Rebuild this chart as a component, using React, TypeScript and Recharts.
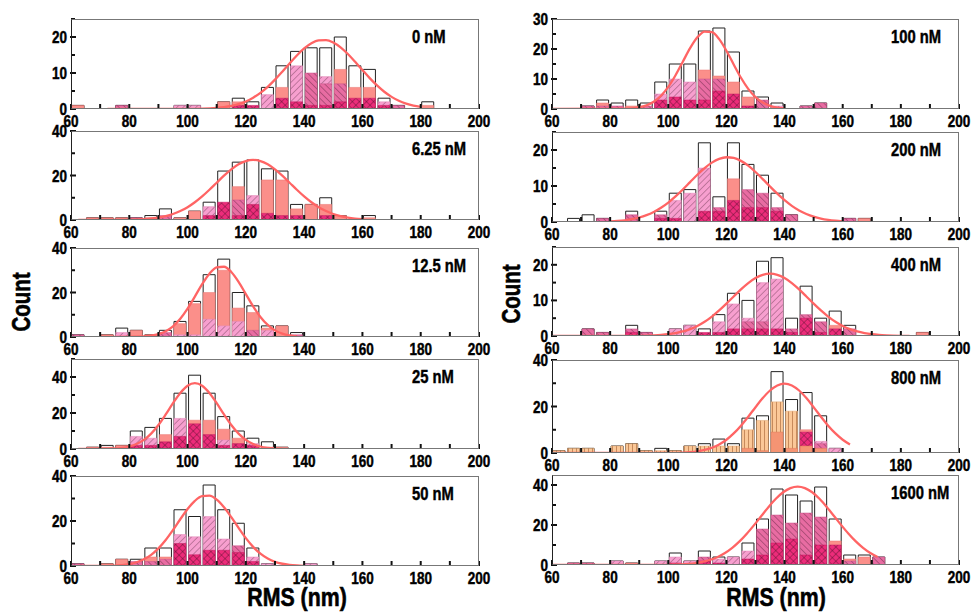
import React from 'react';
import { ComposedChart, Bar, Line, XAxis, YAxis } from 'recharts';

// ---------- categories / ticks ----------
const binCenters = [62.5, 67.5, 72.5, 77.5, 82.5, 87.5, 92.5, 97.5, 102.5, 107.5, 112.5, 117.5, 122.5, 127.5, 132.5, 137.5, 142.5, 147.5, 152.5, 157.5, 162.5, 167.5, 172.5, 177.5, 182.5, 187.5, 192.5, 197.5];
const xTicks = [60, 70, 80, 90, 100, 110, 120, 130, 140, 150, 160, 170, 180, 190, 200];
const panelLabels = ['0 nM', '6.25 nM', '12.5 nM', '25 nM', '50 nM', '100 nM', '200 nM', '400 nM', '800 nM', '1600 nM'];
const yMaxes = [25, 40, 40, 50, 40, 30, 25, 25, 40, 45];
const yTicks25 = [0, 5, 10, 15, 20, 25];
const yTicks30 = [0, 5, 10, 15, 20, 25, 30];
const yTicks40 = [0, 10, 20, 30, 40];
const yTicks50 = [0, 10, 20, 30, 40, 50];

// ---------- 0 nM ----------
const total0 = [1, 0, 0, 1, 0, 0, 0, 1, 1, 0, 2, 3, 2, 6, 12, 16, 17, 17, 20, 12, 11, 3, 1, 0, 2, 0, 0, 0];
const salmon0 = [1, 0, 0, 0, 0, 0, 0, 0, 0, 0, 2, 2, 0, 0, 6, 0, 0, 0, 11, 6, 6, 0, 0, 0, 1, 0, 0, 0];
const pink0 = [0, 0, 0, 0, 0, 0, 0, 1, 1, 0, 0, 0, 0, 4, 0, 12, 0, 9, 0, 0, 0, 2, 0, 0, 0, 0, 0, 0];
const mauve0 = [0, 0, 0, 1, 0, 0, 0, 0, 0, 0, 0, 0, 0, 0, 0, 0, 10, 7, 7, 0, 0, 0, 1, 0, 0, 0, 0, 0];
const dark0 = [0, 0, 0, 0, 0, 0, 0, 0, 0, 0, 0, 1, 1, 0, 3, 2, 1, 1, 2, 3, 3, 1, 0, 0, 0, 0, 0, 0];
const fitX0 = [72.5, 90, 100, 105, 110, 112.5, 115, 117.5, 120, 122.5, 125, 127.5, 130, 132.5, 135, 137.5, 140, 142.5, 145, 147.5, 150, 152.5, 155, 157.5, 160, 162.5, 165, 167.5, 170, 172.5, 175, 177.5, 180];
const fitY0 = [0, 0.01, 0.02, 0.08, 0.29, 0.5, 0.84, 1.36, 2.1, 3.13, 4.48, 6.16, 8.15, 10.36, 12.66, 14.88, 16.81, 18.26, 19.06, 19.14, 18.47, 17.14, 15.29, 13.12, 10.82, 8.58, 6.54, 4.79, 3.37, 2.28, 1.49, 0.93, 0.56];

// ---------- 6.25 nM ----------
const total1 = [0, 1, 1, 1, 1, 2, 5, 1, 4, 8, 22, 26, 27, 23, 22, 7, 7, 10, 2, 0, 2, 0, 0, 0, 0, 0, 0, 0];
const salmon1 = [0, 1, 1, 1, 0, 1, 0, 1, 4, 0, 0, 15, 0, 18, 18, 5, 7, 7, 2, 0, 1, 0, 0, 0, 0, 0, 0, 0];
const pink1 = [0, 0, 0, 0, 0, 0, 0, 0, 0, 6, 0, 0, 11, 0, 0, 0, 0, 0, 0, 0, 0, 0, 0, 0, 0, 0, 0, 0];
const mauve1 = [0, 0, 0, 0, 1, 0, 2, 0, 0, 0, 0, 9, 0, 0, 0, 0, 0, 0, 0, 0, 0, 0, 0, 0, 0, 0, 0, 0];
const dark1 = [0, 0, 0, 0, 0, 0, 0, 0, 0, 2, 8, 2, 7, 3, 2, 2, 0, 2, 0, 0, 0, 0, 0, 0, 0, 0, 0, 0];
const fitX1 = [62.5, 80, 90, 92.5, 95, 97.5, 100, 102.5, 105, 107.5, 110, 112.5, 115, 117.5, 120, 122.5, 125, 127.5, 130, 132.5, 135, 137.5, 140, 142.5, 145, 147.5, 150, 152.5, 155, 157.5, 160];
const fitY1 = [0, 0.11, 1.08, 1.73, 2.69, 4.01, 5.76, 7.97, 10.6, 13.59, 16.76, 19.9, 22.74, 25.02, 26.49, 27, 26.49, 25.02, 22.74, 19.9, 16.76, 13.59, 10.6, 7.97, 5.76, 4.01, 2.69, 1.73, 1.08, 0.65, 0.37];

// ---------- 12.5 nM ----------
const total2 = [1, 0, 1, 4, 3, 1, 3, 7, 16, 28, 35, 20, 14, 5, 5, 2, 0, 0, 0, 0, 0, 0, 0, 0, 0, 0, 0, 0];
const salmon2 = [0, 0, 1, 0, 3, 1, 0, 6, 15, 20, 30, 13, 11, 4, 5, 0, 0, 0, 0, 0, 0, 0, 0, 0, 0, 0, 0, 0];
const pink2 = [0, 0, 0, 2, 0, 0, 0, 1, 1, 8, 5, 7, 0, 3, 0, 0, 0, 0, 0, 0, 0, 0, 0, 0, 0, 0, 0, 0];
const mauve2 = [1, 0, 0, 0, 0, 0, 2, 0, 0, 0, 0, 0, 3, 0, 0, 1, 0, 0, 0, 0, 0, 0, 0, 0, 0, 0, 0, 0];
const dark2 = [0, 0, 0, 0, 0, 0, 0, 0, 0, 0, 0, 0, 0, 0, 0, 0, 0, 0, 0, 0, 0, 0, 0, 0, 0, 0, 0, 0];
const fitX2 = [70, 85, 87.5, 90, 92.5, 95, 97.5, 100, 102.5, 105, 107.5, 110, 112.5, 115, 117.5, 120, 122.5, 125, 127.5, 130, 132.5, 135, 137.5];
const fitY2 = [0, 0.25, 0.59, 1.3, 2.61, 4.83, 8.19, 12.74, 18.15, 23.74, 28.47, 31.31, 31.58, 29.21, 24.79, 19.29, 13.77, 9.01, 5.41, 2.98, 1.5, 0.7, 0.3];

// ---------- 25 nM ----------
const total3 = [0, 1, 2, 2, 10, 12, 17, 31, 41, 31, 18, 10, 6, 4, 1, 0, 0, 0, 0, 0, 0, 0, 0, 0, 0, 0, 0, 0];
const salmon3 = [0, 1, 1, 2, 0, 0, 8, 0, 16, 16, 11, 6, 0, 1, 1, 0, 0, 0, 0, 0, 0, 0, 0, 0, 0, 0, 0, 0];
const pink3 = [0, 0, 0, 0, 7, 6, 0, 17, 0, 0, 5, 0, 3, 0, 0, 0, 0, 0, 0, 0, 0, 0, 0, 0, 0, 0, 0, 0];
const mauve3 = [0, 0, 0, 0, 0, 0, 0, 0, 0, 0, 0, 0, 0, 0, 0, 0, 0, 0, 0, 0, 0, 0, 0, 0, 0, 0, 0, 0];
const dark3 = [0, 0, 0, 0, 2, 2, 4, 7, 14, 8, 2, 3, 2, 0, 0, 0, 0, 0, 0, 0, 0, 0, 0, 0, 0, 0, 0, 0];
const fitX3 = [62.5, 75, 77.5, 80, 82.5, 85, 87.5, 90, 92.5, 95, 97.5, 100, 102.5, 105, 107.5, 110, 112.5, 115, 117.5, 120, 122.5, 125, 127.5, 130, 132.5];
const fitY3 = [0, 0.28, 0.65, 1.39, 2.77, 5.07, 8.56, 13.35, 19.19, 25.46, 31.15, 35.15, 36.6, 35.15, 31.15, 25.46, 19.19, 13.35, 8.56, 5.07, 2.77, 1.39, 0.65, 0.28, 0.1];

// ---------- 50 nM ----------
const total4 = [1, 0, 1, 3, 3, 8, 8, 25, 22, 36, 25, 19, 8, 1, 0, 0, 1, 0, 0, 0, 0, 0, 0, 0, 0, 0, 0, 0];
const salmon4 = [0, 0, 1, 3, 0, 4, 4, 0, 0, 0, 0, 0, 0, 0, 0, 0, 0, 0, 0, 0, 0, 0, 0, 0, 0, 0, 0, 0];
const pink4 = [0, 0, 0, 0, 0, 0, 0, 14, 13, 22, 12, 0, 4, 1, 0, 0, 1, 0, 0, 0, 0, 0, 0, 0, 0, 0, 0, 0];
const mauve4 = [1, 0, 0, 0, 2, 2, 3, 0, 0, 0, 0, 9, 0, 0, 0, 0, 0, 0, 0, 0, 0, 0, 0, 0, 0, 0, 0, 0];
const dark4 = [0, 0, 0, 0, 0, 0, 0, 10, 5, 7, 7, 6, 2, 0, 0, 0, 0, 0, 0, 0, 0, 0, 0, 0, 0, 0, 0, 0];
const fitX4 = [62.5, 75, 77.5, 80, 82.5, 85, 87.5, 90, 92.5, 95, 97.5, 100, 102.5, 105, 107.5, 110, 112.5, 115, 117.5, 120, 122.5, 125, 127.5, 130, 132.5, 135, 137.5, 140];
const fitY4 = [0, 0.2, 0.43, 0.87, 1.66, 2.97, 4.98, 7.83, 11.55, 15.99, 20.77, 25.31, 28.94, 31.04, 31.24, 29.5, 26.13, 21.72, 16.94, 12.39, 8.51, 5.48, 3.31, 1.87, 1.0, 0.5, 0.23, 0.1];

// ---------- 100 nM ----------
const total5 = [0, 0, 1, 3, 2, 3, 2, 9, 15, 15, 26, 27, 19, 6, 4, 2, 0, 1, 2, 0, 0, 0, 0, 0, 0, 0, 0, 0];
const salmon5 = [0, 0, 0, 2, 0, 1, 0, 0, 0, 0, 13, 11, 9, 4, 0, 0, 0, 0, 0, 0, 0, 0, 0, 0, 0, 0, 0, 0];
const pink5 = [0, 0, 0, 0, 0, 0, 0, 5, 10, 9, 0, 0, 0, 0, 0, 1, 0, 0, 0, 0, 0, 0, 0, 0, 0, 0, 0, 0];
const mauve5 = [0, 0, 1, 1, 1, 0, 1, 0, 0, 0, 10, 10, 0, 0, 3, 0, 0, 1, 2, 0, 0, 0, 0, 0, 0, 0, 0, 0];
const dark5 = [0, 0, 0, 0, 0, 0, 0, 3, 4, 3, 3, 6, 5, 1, 0, 0, 0, 0, 0, 0, 0, 0, 0, 0, 0, 0, 0, 0];
const fitX5 = [60, 85, 87.5, 90, 92.5, 95, 97.5, 100, 102.5, 105, 107.5, 110, 112.5, 115, 117.5, 120, 122.5, 125, 127.5, 130, 132.5, 135, 137.5, 140];
const fitY5 = [0, 0.09, 0.24, 0.57, 1.23, 2.44, 4.42, 7.37, 11.26, 15.77, 20.27, 23.89, 25.82, 25.6, 23.28, 19.41, 14.84, 10.41, 6.7, 3.95, 2.14, 1.06, 0.48, 0.2];

// ---------- 200 nM ----------
const total6 = [0, 1, 2, 1, 0, 3, 0, 3, 8, 9, 22, 7, 22, 16, 13, 8, 2, 0, 0, 0, 1, 1, 0, 0, 0, 0, 0, 0];
const salmon6 = [0, 0, 0, 0, 0, 0, 0, 0, 0, 0, 0, 0, 12, 0, 0, 0, 0, 0, 0, 0, 0, 1, 0, 0, 0, 0, 0, 0];
const pink6 = [0, 0, 0, 0, 0, 0, 0, 0, 6, 8, 15, 0, 0, 0, 0, 0, 0, 0, 0, 0, 0, 0, 0, 0, 0, 0, 0, 0];
const mauve6 = [0, 0, 0, 1, 0, 2, 0, 2, 0, 0, 0, 4, 0, 9, 8, 4, 2, 0, 0, 0, 1, 0, 0, 0, 0, 0, 0, 0];
const dark6 = [0, 0, 0, 0, 0, 0, 0, 1, 1, 0, 3, 3, 6, 4, 4, 3, 0, 0, 0, 0, 0, 0, 0, 0, 0, 0, 0, 0];
const fitX6 = [80, 82.5, 85, 87.5, 90, 92.5, 95, 97.5, 100, 102.5, 105, 107.5, 110, 112.5, 115, 117.5, 120, 122.5, 125, 127.5, 130, 132.5, 135, 137.5, 140, 142.5, 145, 147.5, 150, 152.5, 155, 157.5, 160];
const fitY6 = [0.16, 0.29, 0.48, 0.79, 1.25, 1.9, 2.79, 3.95, 5.39, 7.1, 9.03, 11.08, 13.12, 14.98, 16.5, 17.54, 17.99, 17.8, 16.98, 15.64, 13.89, 11.91, 9.85, 7.86, 6.05, 4.49, 3.21, 2.22, 1.48, 0.95, 0.59, 0.35, 0.2];

// ---------- 400 nM ----------
const total7 = [0, 0, 2, 1, 0, 3, 1, 0, 2, 3, 2, 6, 12, 10, 21, 22, 5, 14, 5, 7, 3, 0, 0, 0, 0, 1, 0, 0];
const salmon7 = [0, 0, 0, 0, 0, 0, 0, 0, 0, 0, 0, 0, 0, 0, 0, 0, 0, 0, 0, 3, 0, 0, 0, 0, 0, 1, 0, 0];
const pink7 = [0, 0, 0, 0, 0, 0, 0, 0, 2, 3, 0, 4, 9, 5, 15, 16, 0, 0, 0, 0, 0, 0, 0, 0, 0, 0, 0, 0];
const mauve7 = [0, 0, 2, 1, 0, 2, 1, 0, 0, 0, 0, 0, 0, 4, 4, 0, 2, 6, 4, 0, 2, 0, 0, 0, 0, 0, 0, 0];
const dark7 = [0, 0, 0, 0, 0, 1, 0, 0, 0, 0, 1, 1, 2, 2, 2, 2, 1, 5, 1, 2, 0, 0, 0, 0, 0, 0, 0, 0];
const fitX7 = [60, 90, 95, 97.5, 100, 102.5, 105, 107.5, 110, 112.5, 115, 117.5, 120, 122.5, 125, 127.5, 130, 132.5, 135, 137.5, 140, 142.5, 145, 147.5, 150, 152.5, 155, 157.5, 160, 162.5, 165, 167.5, 170, 172.5, 175, 180, 183];
const fitY7 = [0, 0.05, 0.17, 0.29, 0.49, 0.81, 1.27, 1.93, 2.83, 4.0, 5.46, 7.17, 9.08, 11.1, 13.08, 14.85, 16.27, 17.18, 17.5, 17.18, 16.27, 14.85, 13.08, 11.1, 9.08, 7.17, 5.46, 4.0, 2.83, 1.93, 1.27, 0.81, 0.49, 0.29, 0.17, 0.05, 0.02];

// ---------- 800 nM ----------
const total8 = [1, 2, 2, 0, 3, 4, 1, 2, 1, 3, 4, 6, 4, 15, 16, 35, 23, 26, 16, 2, 0, 0, 0, 0, 0, 0, 0, 0];
const salmon8 = [0, 0, 0, 0, 0, 0, 0, 0, 0, 0, 0, 0, 0, 0, 0, 0, 0, 10, 0, 0, 0, 0, 0, 0, 0, 0, 0, 0];
const pink8 = [0, 0, 0, 0, 0, 0, 0, 0, 0, 0, 0, 0, 0, 0, 0, 0, 0, 0, 5, 2, 0, 0, 0, 0, 0, 0, 0, 0];
const mauve8 = [0, 0, 0, 0, 0, 0, 0, 0, 0, 0, 0, 0, 0, 0, 0, 0, 0, 0, 4, 0, 0, 0, 0, 0, 0, 0, 0, 0];
const dark8 = [0, 0, 0, 0, 0, 0, 0, 0, 0, 0, 0, 0, 0, 0, 0, 0, 0, 9, 0, 0, 0, 0, 0, 0, 0, 0, 0, 0];
const peach8 = [1, 2, 2, 0, 3, 4, 1, 1, 1, 3, 3, 3, 3, 10, 14, 22, 18, 0, 0, 0, 0, 0, 0, 0, 0, 0, 0, 0];
const orange8 = [0, 0, 0, 0, 0, 0, 0, 0, 0, 0, 0, 0, 0, 2, 1, 9, 2, 3, 2, 0, 0, 0, 0, 0, 0, 0, 0, 0];
const fitX8 = [60, 100, 105, 107.5, 110, 112.5, 115, 117.5, 120, 122.5, 125, 127.5, 130, 132.5, 135, 137.5, 140, 142.5, 145, 147.5, 150, 152.5, 155, 157.5, 160, 162.5];
const fitY8 = [0, 0.04, 0.19, 0.38, 0.72, 1.31, 2.25, 3.68, 5.71, 8.41, 11.76, 15.62, 19.71, 23.62, 26.88, 29.04, 29.8, 29.04, 26.88, 23.62, 19.71, 15.62, 11.76, 8.41, 5.71, 3.68];

// ---------- 1600 nM ----------
const total9 = [0, 1, 1, 0, 2, 1, 0, 2, 6, 2, 7, 4, 4, 11, 23, 38, 35, 32, 39, 23, 5, 5, 4, 0, 0, 0, 0, 0];
const salmon9 = [0, 0, 0, 0, 0, 1, 0, 0, 0, 0, 0, 0, 0, 0, 0, 0, 0, 0, 0, 12, 3, 4, 0, 0, 0, 0, 0, 0];
const pink9 = [0, 0, 0, 0, 2, 0, 0, 2, 4, 2, 0, 3, 4, 7, 0, 0, 0, 0, 0, 0, 0, 0, 0, 0, 0, 0, 0, 0];
const mauve9 = [0, 1, 1, 0, 0, 0, 0, 0, 0, 0, 4, 0, 0, 0, 18, 25, 21, 26, 24, 0, 2, 0, 4, 0, 0, 0, 0, 0];
const dark9 = [0, 0, 0, 0, 0, 0, 0, 0, 1, 0, 2, 1, 0, 3, 5, 11, 13, 5, 10, 10, 0, 0, 0, 0, 0, 0, 0, 0];
const fitX9 = [60, 99.5, 104.5, 107, 109.5, 112, 114.5, 117, 119.5, 122, 124.5, 127, 129.5, 132, 134.5, 137, 139.5, 142, 144.5, 147, 149.5, 152, 154.5, 157, 159.5, 162, 164.5, 167, 169.5, 172];
const fitY9 = [0, 0.09, 0.32, 0.57, 0.99, 1.64, 2.62, 4.04, 5.99, 8.57, 11.78, 15.62, 19.94, 24.51, 29.02, 33.1, 36.36, 38.47, 39.2, 38.47, 36.36, 33.1, 29.02, 24.51, 19.94, 15.62, 11.78, 8.57, 5.99, 4.04];

const zeros = binCenters.map(() => 0);

const panelData = [
  { total: total0, salmon: salmon0, pink: pink0, mauve: mauve0, dark: dark0, peach: zeros, orange: zeros, fitX: fitX0, fitY: fitY0, yTicks: yTicks25, major: 10 },
  { total: total1, salmon: salmon1, pink: pink1, mauve: mauve1, dark: dark1, peach: zeros, orange: zeros, fitX: fitX1, fitY: fitY1, yTicks: yTicks40, major: 20 },
  { total: total2, salmon: salmon2, pink: pink2, mauve: mauve2, dark: dark2, peach: zeros, orange: zeros, fitX: fitX2, fitY: fitY2, yTicks: yTicks40, major: 20 },
  { total: total3, salmon: salmon3, pink: pink3, mauve: mauve3, dark: dark3, peach: zeros, orange: zeros, fitX: fitX3, fitY: fitY3, yTicks: yTicks50, major: 20 },
  { total: total4, salmon: salmon4, pink: pink4, mauve: mauve4, dark: dark4, peach: zeros, orange: zeros, fitX: fitX4, fitY: fitY4, yTicks: yTicks40, major: 20 },
  { total: total5, salmon: salmon5, pink: pink5, mauve: mauve5, dark: dark5, peach: zeros, orange: zeros, fitX: fitX5, fitY: fitY5, yTicks: yTicks30, major: 10 },
  { total: total6, salmon: salmon6, pink: pink6, mauve: mauve6, dark: dark6, peach: zeros, orange: zeros, fitX: fitX6, fitY: fitY6, yTicks: yTicks25, major: 10 },
  { total: total7, salmon: salmon7, pink: pink7, mauve: mauve7, dark: dark7, peach: zeros, orange: zeros, fitX: fitX7, fitY: fitY7, yTicks: yTicks25, major: 10 },
  { total: total8, salmon: salmon8, pink: pink8, mauve: mauve8, dark: dark8, peach: peach8, orange: orange8, fitX: fitX8, fitY: fitY8, yTicks: yTicks40, major: 20 },
  { total: total9, salmon: salmon9, pink: pink9, mauve: mauve9, dark: dark9, peach: zeros, orange: zeros, fitX: fitX9, fitY: fitY9, yTicks: yTicks40, major: 20 },
];

// ---------- layout (positions / styles) ----------
const FONT = "'Liberation Sans', Arial, Helvetica, sans-serif";
const NARROW = 0.82;
const CHART_W = 490;
const TEXT_STROKE = 0.45;
const COLS = [
  { chartLeft: 20, ml: 21, mr: 31, plotLeft: 71, plotW: 408, labelX: 412, countX: 21, countY: 302, rmsX: 297 },
  { chartLeft: 500, ml: 22, mr: 31, plotLeft: 552, plotW: 407, labelX: 891, countX: 511, countY: 294, rmsX: 776 },
];
const ROWS = [
  { col: 0, top: 19, h: 90 },
  { col: 0, top: 131, h: 89 },
  { col: 0, top: 248, h: 89 },
  { col: 0, top: 359, h: 90 },
  { col: 0, top: 476, h: 90 },
  { col: 1, top: 19, h: 90 },
  { col: 1, top: 132, h: 90 },
  { col: 1, top: 247, h: 89 },
  { col: 1, top: 360, h: 93 },
  { col: 1, top: 475, h: 90 },
];
const COLORS = {
  salmon: '#fb8f8a',
  pink: '#f79fcf',
  mauve: '#e86ca2',
  dark: '#ec2c7a',
  peach: '#fbc898',
  orange: '#f59473',
  fit: '#ff6464',
};

const XTick = (props: any) => {
  const { x, y, payload } = props;
  const v = payload.value;
  return (
    <g>
      <line x1={x} x2={x} y1={y} y2={y - 5} stroke="#111" strokeWidth={2} />
      {v % 20 === 0 && (
        <text
          transform={`translate(${x},${y + 12}) scale(${NARROW},1)`}
          x={0}
          y={0}
          textAnchor="middle"
          dominantBaseline="central"
          fontFamily={FONT}
          fontWeight="bold"
          fontSize={16.5}
          fill="#000"
          stroke="#000"
          strokeWidth={TEXT_STROKE}
        >
          {v}
        </text>
      )}
    </g>
  );
};

const makeYTick = (major: number) => (props: any) => {
  const { x, y, payload } = props;
  const v = payload.value;
  const isMajor = v % major === 0;
  return (
    <g>
      <line x1={x - (isMajor ? 1 : 0)} x2={x + (isMajor ? 5 : 4)} y1={y} y2={y} stroke="#111" strokeWidth={2} />
      {isMajor && (
        <text
          transform={`translate(${x - 4},${y}) scale(${NARROW},1)`}
          x={0}
          y={0}
          textAnchor="end"
          dominantBaseline="central"
          fontFamily={FONT}
          fontWeight="bold"
          fontSize={16.5}
          fill="#000"
          stroke="#000"
          strokeWidth={TEXT_STROKE}
        >
          {v}
        </text>
      )}
    </g>
  );
};

function Panel({ idx }: { idx: number }) {
  const d = panelData[idx];
  const r = ROWS[idx];
  const c = COLS[r.col];
  const yMax = yMaxes[idx];
  const rows = binCenters.map((x, i) => ({
    x,
    total: d.total[i],
    salmon: d.salmon[i],
    pink: d.pink[i],
    mauve: d.mauve[i],
    dark: d.dark[i],
    peach: d.peach[i],
    orange: d.orange[i],
  }));
  const fit = d.fitX.map((x, i) => ({ x, y: d.fitY[i] }));
  const BS = 12;
  const common = { xAxisId: 'bins', isAnimationActive: false, barSize: BS } as any;
  return (
    <>
      <div style={{ position: 'absolute', left: c.chartLeft, top: r.top - 10 }}>
        <ComposedChart
          width={CHART_W}
          height={10 + r.h + 26}
          data={rows}
          margin={{ top: 10, right: c.mr, bottom: 0, left: c.ml }}
          barGap={-BS}
          barSize={BS}
        >
          <XAxis
            xAxisId="bins"
            type="number"
            dataKey="x"
            domain={[60, 200]}
            ticks={xTicks}
            interval={0}
            tickSize={0}
            tickMargin={0}
            axisLine={false}
            tickLine={false}
            tick={XTick}
            height={26}
            allowDataOverflow
          />
          <XAxis xAxisId="fit" type="number" dataKey="x" domain={[60, 200]} hide allowDataOverflow />
          <YAxis
            type="number"
            domain={[0, yMax]}
            ticks={d.yTicks}
            interval={0}
            tickSize={0}
            tickMargin={0}
            axisLine={false}
            tickLine={false}
            width={30}
            tick={makeYTick(d.major)}
            allowDataOverflow
          />
          <Bar {...common} dataKey="total" fill="#ffffff" stroke="#222" strokeWidth={1} />
          <Bar {...common} dataKey="salmon" fill={COLORS.salmon} stroke="#e97772" strokeWidth={0.5} />
          <Bar {...common} dataKey="pink" fill="url(#hatchPink)" stroke="#e58ab9" strokeWidth={0.5} />
          <Bar {...common} dataKey="mauve" fill="url(#hatchMauve)" stroke="#c95488" strokeWidth={0.5} />
          <Bar {...common} dataKey="dark" fill="url(#hatchDark)" stroke="#c81a60" strokeWidth={0.5} />
          <Bar {...common} dataKey="peach" fill="url(#hatchPeach)" stroke="#e0a877" strokeWidth={0.5} />
          <Bar {...common} dataKey="orange" fill={COLORS.orange} stroke="#df7a58" strokeWidth={0.5} />
          <Line
            xAxisId="fit"
            data={fit}
            dataKey="y"
            type="monotone"
            stroke={COLORS.fit}
            strokeWidth={2.3}
            dot={false}
            activeDot={false}
            isAnimationActive={false}
          />
        </ComposedChart>
      </div>
      <div
        style={{
          position: 'absolute',
          left: c.plotLeft,
          top: r.top,
          width: c.plotW,
          height: r.h,
          boxSizing: 'border-box',
          border: '1px solid #777',
          borderLeft: '1px solid #222',
          pointerEvents: 'none',
        }}
      />
      <div
        style={{
          position: 'absolute',
          left: c.labelX,
          top: r.top + 9,
          fontFamily: FONT,
          fontWeight: 'bold',
          fontSize: 18,
          lineHeight: '18px',
          whiteSpace: 'nowrap',
          color: '#000',
          WebkitTextStroke: `${TEXT_STROKE}px #000`,
          transform: `scaleX(${NARROW})`,
          transformOrigin: 'left center',
        }}
      >
        {panelLabels[idx]}
      </div>
    </>
  );
}

export default function App() {
  return (
    <div style={{ position: 'absolute', left: 0, top: 0, width: 975, height: 612, background: '#fff', overflow: 'hidden' }}>
      <svg width={0} height={0} style={{ position: 'absolute' }}>
        <defs>
          <pattern id="hatchPink" patternUnits="userSpaceOnUse" width={4.5} height={4.5} patternTransform="rotate(45)">
            <rect width={4.5} height={4.5} fill={COLORS.pink} />
            <line x1={0} y1={0} x2={0} y2={4.5} stroke="#5a2a40" strokeWidth={0.7} />
          </pattern>
          <pattern id="hatchMauve" patternUnits="userSpaceOnUse" width={4.5} height={4.5} patternTransform="rotate(-45)">
            <rect width={4.5} height={4.5} fill={COLORS.mauve} />
            <line x1={0} y1={0} x2={0} y2={4.5} stroke="#4a1a30" strokeWidth={0.7} />
          </pattern>
          <pattern id="hatchDark" patternUnits="userSpaceOnUse" width={5} height={5} patternTransform="rotate(45)">
            <rect width={5} height={5} fill={COLORS.dark} />
            <line x1={0} y1={0} x2={0} y2={5} stroke="#3a0a20" strokeWidth={0.7} />
            <line x1={0} y1={0} x2={5} y2={0} stroke="#3a0a20" strokeWidth={0.7} />
          </pattern>
          <pattern id="hatchPeach" patternUnits="userSpaceOnUse" width={4} height={4}>
            <rect width={4} height={4} fill={COLORS.peach} />
            <line x1={0.5} y1={0} x2={0.5} y2={4} stroke="#b07040" strokeWidth={0.7} />
          </pattern>
        </defs>
      </svg>
      {ROWS.map((_, i) => (
        <Panel key={i} idx={i} />
      ))}
      {COLS.map((c, i) => (
        <React.Fragment key={i}>
          <div
            style={{
              position: 'absolute',
              left: c.countX,
              top: c.countY,
              transform: `translate(-50%, -50%) rotate(-90deg) scaleX(${NARROW})`,
              fontFamily: FONT,
              fontWeight: 'bold',
              fontSize: 25,
              lineHeight: '25px',
              whiteSpace: 'nowrap',
              color: '#000',
              WebkitTextStroke: `0.6px #000`,
            }}
          >
            Count
          </div>
          <div
            style={{
              position: 'absolute',
              left: c.rmsX,
              top: 597,
              transform: `translate(-50%, -50%) scaleX(${NARROW})`,
              fontFamily: FONT,
              fontWeight: 'bold',
              fontSize: 26,
              lineHeight: '26px',
              whiteSpace: 'nowrap',
              color: '#000',
              WebkitTextStroke: `0.6px #000`,
            }}
          >
            RMS (nm)
          </div>
        </React.Fragment>
      ))}
    </div>
  );
}
